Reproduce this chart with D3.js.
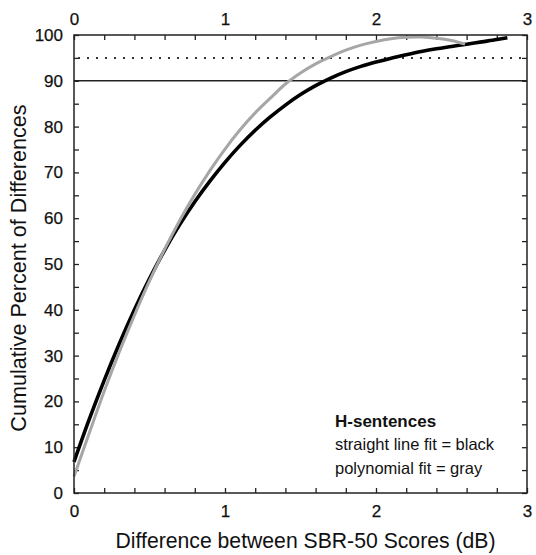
<!DOCTYPE html>
<html><head><meta charset="utf-8">
<script src="https://cdn.jsdelivr.net/npm/d3@7"></script>
<style>
body{margin:0;background:#fff;}
text{font-family:"Liberation Sans",Arial,Helvetica,sans-serif;}
</style></head>
<body><svg id="c" width="536" height="555"></svg>
<script>
// Data
const blackX = [0,0.1,0.2,0.3,0.4,0.5,0.6,0.7,0.8,0.9,1.0,1.1,1.2,1.3,1.4,1.5,1.6,1.7,1.8,1.9,2.0,2.1,2.2,2.3,2.4,2.5,2.6,2.7,2.8,2.87];
const blackY = [6.8,16.0,24.6,32.6,40.0,46.8,53.0,58.6,63.6,68.1,72.2,75.9,79.2,82.1,84.7,87.0,88.95,90.6,92.0,93.15,94.1,94.95,95.7,96.4,97.0,97.5,98.0,98.5,99.0,99.4];
const grayX = [0,0.1,0.2,0.3,0.4,0.5,0.6,0.7,0.8,0.9,1.0,1.1,1.2,1.3,1.4,1.5,1.6,1.7,1.8,1.9,2.0,2.1,2.2,2.3,2.4,2.5,2.59];
const grayY = [3.6,13.0,22.2,30.8,38.8,46.3,53.2,59.5,65.2,70.4,75.1,79.3,83.0,86.2,89.3,91.7,93.7,95.3,96.7,97.8,98.6,99.2,99.5,99.55,99.3,98.8,98.0];
const refLines = [90, 95];
const xTickLabels = [0,1,2,3];
const yTickLabels = [0,10,20,30,40,50,60,70,80,90,100];
const xTitle = "Difference between SBR-50 Scores (dB)";
const yTitle = "Cumulative Percent of Differences";
const legendTitle = "H-sentences";
const legendLines = ["straight line fit = black","polynomial fit = gray"];

const svg = d3.select("#c");
const L=74, R=527, T=35, B=493;
const x = d3.scaleLinear().domain([0,3]).range([L,R]);
const y = d3.scaleLinear().domain([0,100]).range([B,T]);

const minorX = d3.range(0,3.0001,0.2).map(v=>+v.toFixed(1));
const minorY = d3.range(0,100.001,5);

// minor ticks (inward)
svg.append("g").attr("transform",`translate(0,${B})`)
  .call(d3.axisBottom(x).tickValues(minorX).tickSize(-5).tickFormat(""))
  .call(g=>g.select(".domain").remove());
svg.append("g").attr("transform",`translate(0,${T})`)
  .call(d3.axisTop(x).tickValues(minorX).tickSize(-5).tickFormat(""))
  .call(g=>g.select(".domain").remove());
svg.append("g").attr("transform",`translate(${L},0)`)
  .call(d3.axisLeft(y).tickValues(minorY).tickSize(-5).tickFormat(""))
  .call(g=>g.select(".domain").remove());
svg.append("g").attr("transform",`translate(${R},0)`)
  .call(d3.axisRight(y).tickValues(minorY).tickSize(-5).tickFormat(""))
  .call(g=>g.select(".domain").remove());
svg.selectAll(".tick line").attr("stroke","#222").attr("stroke-width",1.3);

// labels
const fs = "17px";
function styleLabels(g){
  g.select(".domain").remove();
  g.selectAll("text").attr("font-size",fs).attr("fill","#111")
   .attr("font-family","Liberation Sans, Arial, sans-serif")
   .attr("stroke","#111").attr("stroke-width",0.25);
}
svg.append("g").attr("transform",`translate(0,${B})`)
  .call(d3.axisBottom(x).tickValues(xTickLabels).tickSize(0).tickPadding(12).tickFormat(d3.format("d")))
  .call(styleLabels);
svg.append("g").attr("transform",`translate(0,${T})`)
  .call(d3.axisTop(x).tickValues(xTickLabels).tickSize(0).tickPadding(10).tickFormat(d3.format("d")))
  .call(styleLabels);
svg.append("g").attr("transform",`translate(${L},0)`)
  .call(d3.axisLeft(y).tickValues(yTickLabels).tickSize(0).tickPadding(11).tickFormat(d3.format("d")))
  .call(styleLabels);

// reference lines
svg.append("line").attr("x1",L).attr("x2",R).attr("y1",y(refLines[0])).attr("y2",y(refLines[0]))
  .attr("stroke","#222").attr("stroke-width",1.4);
svg.append("line").attr("x1",L+4).attr("x2",R).attr("y1",y(refLines[1])).attr("y2",y(refLines[1]))
  .attr("stroke","#333").attr("stroke-width",2).attr("stroke-dasharray","2,7");

// curves
const line = d3.line().x(d=>x(d[0])).y(d=>y(d[1])).curve(d3.curveCatmullRom.alpha(0.5));
const bd = blackX.map((v,i)=>[v,blackY[i]]);
const gd = grayX.map((v,i)=>[v,grayY[i]]);
svg.append("path").attr("d",line(bd)).attr("fill","none").attr("stroke","#000").attr("stroke-width",3.6);
svg.append("path").attr("d",line(gd)).attr("fill","none").attr("stroke","#a6a6a6").attr("stroke-width",3);

// frame
svg.append("rect").attr("x",L).attr("y",T).attr("width",R-L).attr("height",B-T)
  .attr("fill","none").attr("stroke","#222").attr("stroke-width",1.5);

// titles
svg.append("text").attr("x",305.5).attr("y",548).attr("text-anchor","middle")
  .attr("font-size","21.2px").attr("fill","#111").text(xTitle);
svg.append("text").attr("transform",`translate(26,268) rotate(-90)`).attr("text-anchor","middle")
  .attr("font-size","21.6px").attr("fill","#111").text(yTitle);

// legend
svg.append("text").attr("x",335).attr("y",427).attr("font-size","17px").attr("font-weight","bold").attr("fill","#111").text(legendTitle);
legendLines.forEach((t,i)=>{
  svg.append("text").attr("x",335).attr("y",450+i*23.5).attr("font-size","16.5px").attr("fill","#111").text(t);
});
</script></body></html>
